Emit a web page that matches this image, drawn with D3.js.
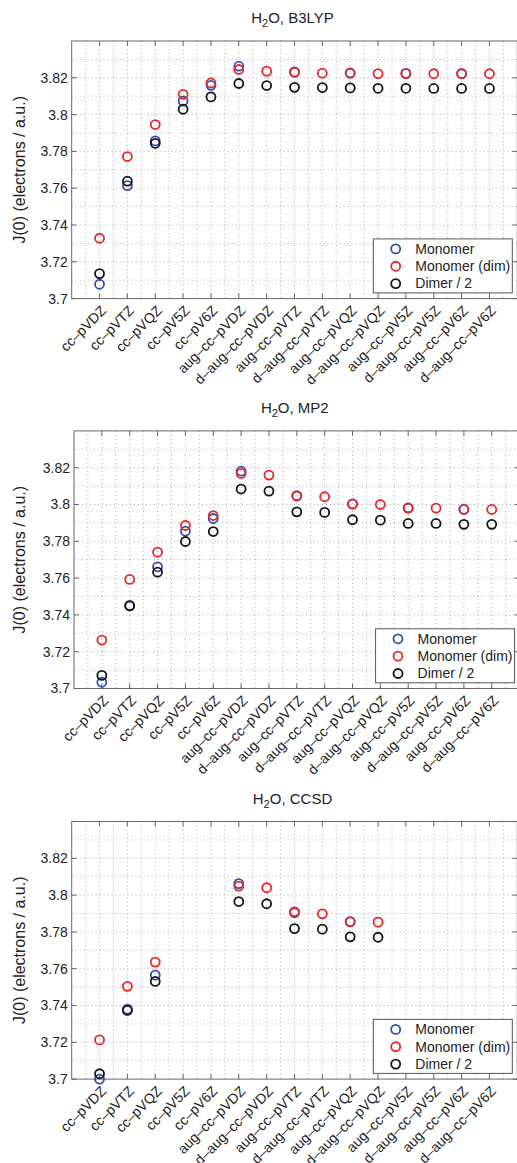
<!DOCTYPE html>
<html>
<head>
<meta charset="utf-8">
<script src="https://cdn.jsdelivr.net/npm/d3@7"></script>
<style>
  body { margin: 0; background: #fff; }
  svg { display: block; font-family: "Liberation Sans", Arial, sans-serif; }
</style>
</head>
<body>
<div id="chart"></div>
<script>
// basis sets on the x axis
const categories = ["cc–pVDZ", "cc–pVTZ", "cc–pVQZ", "cc–pV5Z", "cc–pV6Z",
  "aug–cc–pVDZ", "d–aug–cc–pVDZ", "aug–cc–pVTZ", "d–aug–cc–pVTZ",
  "aug–cc–pVQZ", "d–aug–cc–pVQZ", "aug–cc–pV5Z", "d–aug–cc–pV5Z",
  "aug–cc–pV6Z", "d–aug–cc–pV6Z"];

const yTicks = [3.7, 3.72, 3.74, 3.76, 3.78, 3.8, 3.82];
const seriesNames = ["Monomer", "Monomer (dim)", "Dimer / 2"];

// B3LYP
const b3lypMonomer = [3.7078, 3.7614, 3.7857, 3.8074, 3.8159, 3.8263, null, 3.8232, null, 3.8226, null, 3.8224, null, 3.8223, null];
const b3lypMonomerDim = [3.7328, 3.7772, 3.7946, 3.8110, 3.8172, 3.8245, 3.8236, 3.8230, 3.8225, 3.8225, 3.8223, 3.8223, 3.8222, 3.8222, 3.8222];
const b3lypDimer = [3.7136, 3.7638, 3.7844, 3.8029, 3.8096, 3.8169, 3.8158, 3.8148, 3.8147, 3.8145, 3.8143, 3.8143, 3.8142, 3.8142, 3.8142];

// MP2
const mp2Monomer = [3.7034, 3.7451, 3.7661, 3.7855, 3.7924, 3.8181, null, 3.8048, null, 3.8003, null, 3.7981, null, 3.7974, null];
const mp2MonomerDim = [3.7263, 3.7593, 3.7741, 3.7886, 3.7940, 3.8169, 3.8160, 3.8046, 3.8042, 3.8002, 3.8000, 3.7980, 3.7980, 3.7973, 3.7973];
const mp2Dimer = [3.7071, 3.7449, 3.7632, 3.7799, 3.7853, 3.8084, 3.8073, 3.7960, 3.7957, 3.7917, 3.7915, 3.7897, 3.7897, 3.7892, 3.7892];

// CCSD
const ccsdMonomer = [3.7000, 3.7380, 3.7565, null, null, 3.8062, null, 3.7909, null, 3.7856, null, null, null, null, null];
const ccsdMonomerDim = [3.7213, 3.7504, 3.7636, null, null, 3.8049, 3.8040, 3.7904, 3.7898, 3.7855, 3.7853, null, null, null, null];
const ccsdDimer = [3.7029, 3.7373, 3.7531, null, null, 3.7965, 3.7953, 3.7818, 3.7815, 3.7773, 3.7771, null, null, null, null];

const colors = ["#2f4fae", "#e8262a", "#141414"];

const svg = d3.select('#chart').append('svg')
  .attr('width', 517)
  .attr('height', 1163);

const width = 445.6;
const height = 257.6;

drawPanel("B3LYP", [b3lypMonomer, b3lypMonomerDim, b3lypDimer], 71.7, 41);
drawPanel("MP2", [mp2Monomer, mp2MonomerDim, mp2Dimer], 74, 430.9);
drawPanel("CCSD", [ccsdMonomer, ccsdMonomerDim, ccsdDimer], 71.7, 821.5);

function drawPanel(method, series, left, top) {
  const g = svg.append('g').attr('transform', 'translate(' + left + ',' + top + ')');

  const x = d3.scaleLinear().domain([0, categories.length + 1]).range([0, width]);
  const y = d3.scaleLinear().domain([3.7, 3.84]).range([height, 0]);

  // dotted grid, major + minor
  const xGrid = d3.range(0.5, categories.length + 1, 0.5);
  const yGrid = d3.range(1, 14).map(i => 3.7 + i * 0.01);

  g.selectAll('.gx').data(xGrid).enter().append('line')
    .attr('x1', d => x(d)).attr('x2', d => x(d))
    .attr('y1', 0).attr('y2', height)
    .attr('stroke', '#9a9a9a').attr('stroke-width', 0.8)
    .attr('stroke-dasharray', '1,3');

  g.selectAll('.gy').data(yGrid).enter().append('line')
    .attr('x1', 0).attr('x2', width)
    .attr('y1', d => y(d)).attr('y2', d => y(d))
    .attr('stroke', '#9a9a9a').attr('stroke-width', 0.8)
    .attr('stroke-dasharray', '1,3');

  // box
  g.append('rect')
    .attr('width', width).attr('height', height)
    .attr('fill', 'none').attr('stroke', '#666').attr('stroke-width', 1);

  // inward ticks
  const tickLen = 5;
  categories.forEach((c, i) => {
    const xx = x(i + 1);
    g.append('line').attr('x1', xx).attr('x2', xx).attr('y1', height).attr('y2', height - tickLen).attr('stroke', '#666');
    g.append('line').attr('x1', xx).attr('x2', xx).attr('y1', 0).attr('y2', tickLen).attr('stroke', '#666');
  });
  yTicks.forEach(t => {
    g.append('line').attr('x1', 0).attr('x2', tickLen).attr('y1', y(t)).attr('y2', y(t)).attr('stroke', '#666');
    g.append('line').attr('x1', width).attr('x2', width - tickLen).attr('y1', y(t)).attr('y2', y(t)).attr('stroke', '#666');
  });

  // y tick labels
  g.selectAll('.yl').data(yTicks).enter().append('text')
    .attr('x', -4).attr('y', d => y(d))
    .attr('dy', '0.35em')
    .attr('text-anchor', 'end')
    .attr('font-size', 14)
    .attr('fill', '#222')
    .text(d => d3.format('~g')(d));

  // x tick labels, rotated
  g.selectAll('.xl').data(categories).enter().append('text')
    .attr('transform', (d, i) => 'translate(' + (x(i + 1) + 4) + ',' + (height + 9.5) + ') rotate(-45)')
    .attr('dy', '0.35em')
    .attr('text-anchor', 'end')
    .attr('font-size', 14)
    .attr('fill', '#222')
    .text(d => d);

  // y label
  g.append('text')
    .attr('transform', 'translate(' + (19 - left) + ',' + (height / 2) + ') rotate(-90)')
    .attr('dy', '0.35em')
    .attr('text-anchor', 'middle')
    .attr('font-size', 16)
    .attr('fill', '#222')
    .text('J(0) (electrons / a.u.)');

  // title
  const title = g.append('text')
    .attr('x', width / 2 - 2).attr('y', -17.7)
    .attr('text-anchor', 'middle')
    .attr('font-size', 15)
    .attr('fill', '#222');
  title.append('tspan').text('H');
  title.append('tspan').attr('font-size', 11).attr('dy', 4).text('2');
  title.append('tspan').attr('dy', -4).text('O, ' + method);

  // markers
  series.forEach((vals, s) => {
    g.selectAll('.m' + s).data(vals.map((v, i) => ({ v: v, i: i })).filter(d => d.v !== null))
      .enter().append('circle')
      .attr('cx', d => x(d.i + 1))
      .attr('cy', d => y(d.v))
      .attr('r', 4.5)
      .attr('fill', 'none')
      .attr('stroke', colors[s])
      .attr('stroke-width', 1.8);
  });

  // legend
  const lw = 139, lh = 54;
  const lg = g.append('g').attr('transform', 'translate(' + (width - 5 - lw) + ',' + (height - 5.7 - lh) + ')');
  lg.append('rect').attr('width', lw).attr('height', lh)
    .attr('fill', '#fff').attr('stroke', '#555').attr('stroke-width', 1);
  seriesNames.forEach((n, k) => {
    const yy = 10 + k * 17.35;
    lg.append('circle').attr('cx', 22.4).attr('cy', yy).attr('r', 4.5)
      .attr('fill', 'none').attr('stroke', colors[k]).attr('stroke-width', 1.8);
    lg.append('text').attr('x', 42).attr('y', yy).attr('dy', '0.35em')
      .attr('font-size', 14).attr('fill', '#222').text(n);
  });
}
</script>
</body>
</html>
